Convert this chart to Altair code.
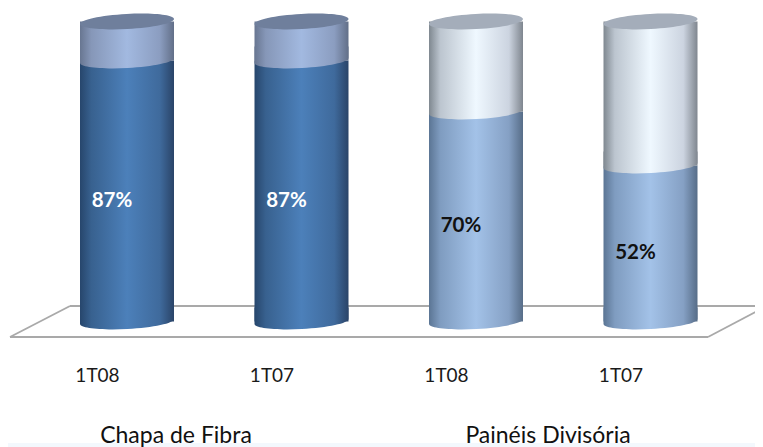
import altair as alt
import pandas as pd

groups = ["Chapa de Fibra", "Chapa de Fibra", "Painéis Divisória", "Painéis Divisória"]
periods = ["1T08", "1T07", "1T08", "1T07"]
shares = [87, 87, 70, 52]
group_names = ["Chapa de Fibra", "Painéis Divisória"]

df = pd.DataFrame({"group": groups, "period": periods, "share": shares})
df["cat"] = df["group"] + "|" + df["period"] + "|" + df.index.astype(str)
df["zero"] = 0
df["full"] = 100
df["mid"] = df["share"] / 2
df["label"] = df["share"].astype(str) + "%"

FONT = "Lato"
BOWL = ("M -1 0.053 C -0.9956 0.1414 -0.544 0.189 0.008 0.16 "
        "C 0.56 0.131 1.004 0.035 1 -0.053 L 1 -0.3 L -1 -0.3 Z")
CAP = ("M -1 0.053 C -0.9956 0.1414 -0.544 0.189 0.008 0.16 "
       "C 0.56 0.131 1.004 0.035 1 -0.053 "
       "C 0.996 -0.141 0.544 -0.189 -0.008 -0.16 "
       "C -0.56 -0.131 -1.004 -0.035 -1 0.053 Z")
BAR_W = 94
SYMBOL = BAR_W ** 2


def grad(edge_l, mid_l, centre, mid_r, edge_r):
    return alt.Gradient(
        gradient="linear", x1=0, x2=1, y1=0, y2=0,
        stops=[
            alt.GradientStop(offset=0, color=edge_l),
            alt.GradientStop(offset=0.12, color=mid_l),
            alt.GradientStop(offset=0.5, color=centre),
            alt.GradientStop(offset=0.85, color=mid_r),
            alt.GradientStop(offset=1, color=edge_r),
        ],
    )


styles = {
    "Chapa de Fibra": {
        "low": grad("#27466c", "#38618f", "#4c80ba", "#3f6a9c", "#2a4468"),
        "high": grad("#687691", "#8697b8", "#a2b9e0", "#8b9dc0", "#626f88"),
        "cap": "#6f7f9c",
    },
    "Painéis Divisória": {
        "low": grad("#5b7594", "#7f9cc0", "#a3c2e8", "#85a0c4", "#576d88"),
        "high": grad("#7f8890", "#bcc5cf", "#eff8ff", "#ccd4e0", "#7f868f"),
        "cap": "#a4adba",
    },
}

x = alt.X(
    "cat:N", sort=None,
    scale=alt.Scale(domain=list(df["cat"]), range=[31.75, 729.75], paddingInner=0, paddingOuter=0),
    axis=alt.Axis(
        title=None, domain=False, ticks=False, grid=False, labelAngle=0,
        labelExpr="split(datum.label, '|')[1]", labelFont=FONT, labelFontSize=19,
        labelColor="#1a1a1a", labelOffset=-29.5, labelPadding=0, offset=-81, labelBaseline="top",
    ),
)
yscale = alt.Scale(domain=[0, 100], range=[313.5, 13.5])
y = lambda f: alt.Y(f, scale=yscale, axis=None)

layers = [
    alt.Chart(df.head(1)).mark_rect(color="#f3f8fd").encode(
        x=alt.value(0), x2=alt.value(747), y=alt.value(435), y2=alt.value(439)
    )
]

# floor outline
for a, b, c, d in [(62, 755, 298, 298), (2, 62, 329, 298), (700, 755, 329, 300), (2, 700, 329, 329)]:
    layers.append(
        alt.Chart(df.head(1)).mark_rule(color="#a9a9a9", strokeWidth=1.8).encode(
            x=alt.value(a), x2=alt.value(b), y=alt.value(c), y2=alt.value(d)
        )
    )

for name in group_names:
    sub = df[df["group"] == name]
    st = styles[name]
    base = alt.Chart(sub)
    layers += [
        base.mark_point(shape=BOWL, size=SYMBOL, filled=True, fill=st["low"], opacity=1, strokeWidth=0).encode(
            x=x, y=y("zero:Q")),
        base.mark_bar(width=BAR_W, fill=st["low"]).encode(x=x, y=y("share:Q"), y2="zero:Q"),
        base.mark_bar(width=BAR_W, fill=st["high"]).encode(x=x, y=y("full:Q"), y2="share:Q"),
        base.mark_point(shape=BOWL, size=SYMBOL, filled=True, fill=st["high"], opacity=1, strokeWidth=0).encode(
            x=x, y=y("share:Q")),
        base.mark_point(shape=CAP, size=SYMBOL, filled=True, fill=st["cap"], opacity=1, strokeWidth=0).encode(
            x=x, y=y("full:Q")),
    ]

for name, colour in zip(group_names, ["white", "#111111"]):
    layers.append(
        alt.Chart(df[df["group"] == name]).mark_text(
            font=FONT, fontSize=20.5, fontWeight="bold", color=colour, dx=-15, dy=9.5
        ).encode(x=x, y=y("mid:Q"), text="label:N")
    )

for name, px in zip(group_names, [168, 540]):
    layers.append(
        alt.Chart(pd.DataFrame({"t": [name]})).mark_text(
            font=FONT, fontSize=23, color="#111111", align="center", baseline="alphabetic"
        ).encode(x=alt.value(px), y=alt.value(435), text="t:N")
    )

chart = alt.layer(*layers).properties(
    width=747, height=439, padding=0, autosize=alt.AutoSizeParams(type="none")
).configure_view(stroke=None).configure_axis(labelLimit=200)

chart.save("out.html", embed_options={"renderer": "svg", "actions": False})
